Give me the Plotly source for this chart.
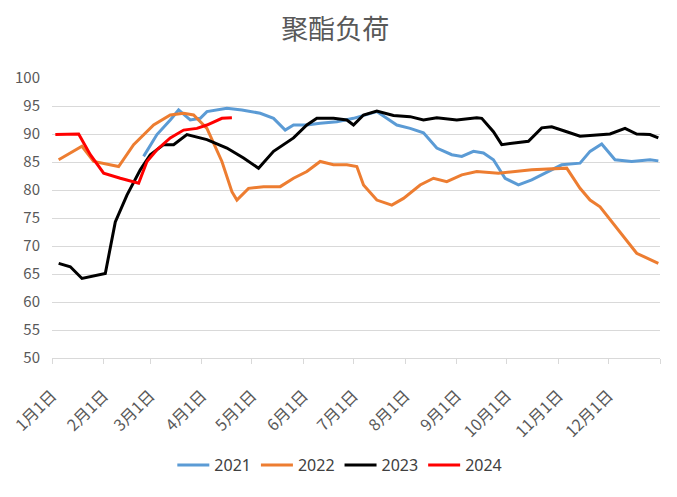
"""
Polyester load chart (聚酯负荷) - seasonal comparison by year
"""
import plotly.graph_objects as go

BASE_YEAR = "2023"

# 2021
dates_2021 = ["02-25", "03-05", "03-13", "03-18", "03-25", "03-31", "04-04", "04-16",
              "04-25", "05-06", "05-14", "05-21", "05-26", "06-03", "06-11", "06-21",
              "07-01", "07-15", "07-27", "08-04", "08-12", "08-20", "08-29", "09-04",
              "09-11", "09-17", "09-23", "09-30", "10-08", "10-16", "10-24", "11-03",
              "11-14", "11-20", "11-27", "12-05", "12-15", "12-26", "12-31"]
load_2021 = [86.0, 89.9, 92.5, 94.3, 92.5, 92.8, 94.0, 94.6,
             94.3, 93.7, 92.8, 90.7, 91.6, 91.6, 91.9, 92.2,
             92.8, 94.0, 91.6, 91.0, 90.2, 87.5, 86.3, 86.0,
             86.9, 86.6, 85.4, 82.1, 80.9, 81.8, 83.0, 84.5,
             84.8, 86.9, 88.2, 85.4, 85.1, 85.4, 85.2]

# 2022
dates_2022 = ["01-05", "01-19", "01-26", "02-10", "02-19", "03-03", "03-13", "03-21",
              "03-27", "04-04", "04-13", "04-19", "04-22", "04-29", "05-08", "05-18",
              "05-26", "06-03", "06-11", "06-19", "06-27", "07-03", "07-07", "07-15",
              "07-24", "07-31", "08-10", "08-18", "08-26", "09-04", "09-13", "09-26",
              "10-16", "11-06", "11-14", "11-20", "11-26", "12-06", "12-18", "12-31"]
load_2022 = [85.4, 87.8, 85.1, 84.2, 88.1, 91.6, 93.4, 93.7,
             93.4, 91.0, 85.1, 79.7, 78.2, 80.3, 80.6, 80.6,
             82.1, 83.3, 85.1, 84.5, 84.5, 84.2, 80.9, 78.2,
             77.3, 78.5, 80.9, 82.1, 81.5, 82.7, 83.3, 83.0,
             83.6, 83.9, 80.3, 78.2, 77.0, 73.2, 68.7, 66.9]

# 2023
dates_2023 = ["01-05", "01-12", "01-19", "02-02", "02-08", "02-15", "02-23", "03-01",
              "03-09", "03-15", "03-23", "03-31", "04-04", "04-16", "04-26", "05-05",
              "05-14", "05-26", "06-03", "06-09", "06-19", "06-27", "07-01", "07-07",
              "07-15", "07-25", "08-04", "08-12", "08-20", "09-01", "09-13", "09-16",
              "09-23", "09-28", "10-14", "10-22", "10-28", "11-06", "11-14", "12-02",
              "12-11", "12-18", "12-26", "12-31"]
load_2023 = [66.9, 66.3, 64.2, 65.1, 74.3, 79.1, 83.6, 86.3,
             88.1, 88.1, 89.9, 89.3, 89.0, 87.5, 85.7, 83.9,
             86.9, 89.3, 91.6, 92.8, 92.8, 92.5, 91.6, 93.4,
             94.1, 93.3, 93.1, 92.5, 92.9, 92.5, 92.9, 92.8,
             90.4, 88.1, 88.7, 91.1, 91.3, 90.4, 89.6, 90.0,
             91.0, 90.0, 89.9, 89.3]

# 2024
dates_2024 = ["01-03", "01-17", "01-24", "02-01", "02-11", "02-22", "02-27", "03-05",
              "03-13", "03-21", "03-29", "04-04", "04-13", "04-19"]
load_2024 = [89.9, 90.0, 86.3, 83.0, 82.1, 81.2, 85.1, 87.2,
             89.3, 90.7, 91.0, 91.6, 92.8, 92.9]

month_ticks = ["01-01", "02-01", "03-01", "04-01", "05-01", "06-01",
               "07-01", "08-01", "09-01", "10-01", "11-01", "12-01"]
month_labels = ["1月1日", "2月1日", "3月1日", "4月1日", "5月1日", "6月1日",
                "7月1日", "8月1日", "9月1日", "10月1日", "11月1日", "12月1日"]

series = [
    ("2021", dates_2021, load_2021, "#5B9BD5"),
    ("2022", dates_2022, load_2022, "#ED7D31"),
    ("2023", dates_2023, load_2023, "#000000"),
    ("2024", dates_2024, load_2024, "#FF0000"),
]

fig = go.Figure()
for name, dates, vals, color in series:
    fig.add_trace(go.Scatter(
        x=[f"{BASE_YEAR}-{d}" for d in dates],
        y=vals,
        name=name,
        mode="lines",
        line=dict(color=color, width=3),
    ))

tickvals = [f"{BASE_YEAR}-{d}" for d in month_ticks] + ["2024-01-01"]
ticktext = month_labels + [""]

# the page body has an 8px margin, so the figure is sized to fit the window
fig.update_layout(
    width=669, height=489,
    plot_bgcolor="white", paper_bgcolor="white",
    font=dict(family="Liberation Sans Narrow, Noto Sans CJK SC, sans-serif",
              color="#595959", size=13),
    title=dict(text="聚酯负荷", x=0.489, xanchor="center", y=0.955, yanchor="middle",
               font=dict(family="Noto Sans CJK SC, sans-serif", size=27, color="#595959")),
    margin=dict(l=44, r=17, t=70, b=139),
    showlegend=True,
    legend=dict(orientation="h", xref="container", yref="container",
                x=0.496, xanchor="center", y=0.065, yanchor="middle",
                font=dict(family="Liberation Sans Narrow, Noto Sans, sans-serif",
                          size=16, color="#404040"),
                itemwidth=32, tracegroupgap=0),
)

fig.update_xaxes(
    type="date", automargin=False,
    range=[f"{BASE_YEAR}-01-01", "2024-01-01"],
    tickmode="array", tickvals=tickvals, ticktext=ticktext,
    tickangle=-45,
    showgrid=False,
    showline=True, linecolor="#D9D9D9", linewidth=1,
    ticks="outside", ticklen=5, tickcolor="#D9D9D9",
    ticklabelstandoff=16,
    tickfont=dict(family="Noto Sans CJK SC, sans-serif", size=16, color="#595959"),
)
fig.update_yaxes(
    automargin=False,
    range=[50, 100], dtick=5,
    showgrid=True, gridcolor="#D9D9D9", gridwidth=1,
    zeroline=False, showline=False,
    ticks="", ticklabelstandoff=11,
    tickfont=dict(size=15, color="#595959"),
)

fig.write_html("out.html")
